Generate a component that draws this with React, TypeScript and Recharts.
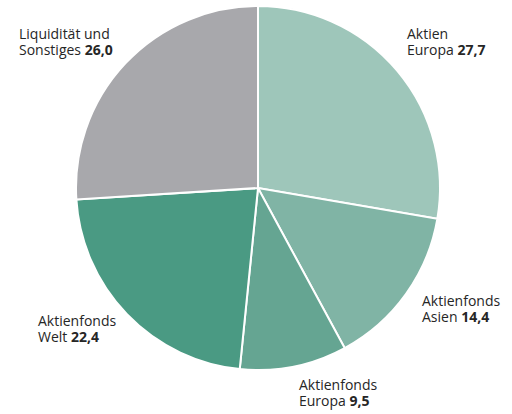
import { Cell, Pie, PieChart } from "recharts";

const names = [
  "Aktien Europa",
  "Aktienfonds Asien",
  "Aktienfonds Europa",
  "Aktienfonds Welt",
  "Liquidität und Sonstiges",
];
const lines1 = ["Aktien", "Aktienfonds", "Aktienfonds", "Aktienfonds", "Liquidität und"];
const lines2 = ["Europa", "Asien", "Europa", "Welt", "Sonstiges"];
const shares = [27.7, 14.4, 9.5, 22.4, 26.0];
const colors = ["#9ec6ba", "#80b4a5", "#65a592", "#4a9a83", "#a8a8ac"];

// where each label block sits (left edge, first baseline)
const labelAt = [
  { x: 407, y: 39 },
  { x: 422, y: 306 },
  { x: 299, y: 390 },
  { x: 38, y: 326 },
  { x: 19, y: 39 },
];

const data = names.map((name, i) => ({ name, value: shares[i] }));

function fmt(v: number) {
  return v.toFixed(1).replace(".", ",");
}

function renderLabel(props: any) {
  const i = props.index as number;
  const p = labelAt[i];
  const font = { fill: "#262626", fontSize: 14, fontFamily: "'Open Sans', sans-serif" };
  return (
    <g>
      <text x={p.x} y={p.y} {...font}>
        {lines1[i]}
      </text>
      <text x={p.x} y={p.y + 16} {...font}>
        {lines2[i]} <tspan fontWeight="bold">{fmt(shares[i])}</tspan>
      </text>
    </g>
  );
}

export default function App() {
  return (
    <div style={{ position: "absolute", left: 0, top: 0, width: 512, height: 414, background: "#fff" }}>
      <PieChart width={512} height={414} margin={{ top: 0, right: 0, bottom: 0, left: 0 }}>
        <Pie
          data={data}
          dataKey="value"
          cx={258}
          cy={188}
          outerRadius={182}
          startAngle={90}
          endAngle={-270}
          stroke="#fff"
          strokeWidth={2}
          label={renderLabel}
          labelLine={false}
          isAnimationActive={false}
        >
          {data.map((d, i) => (
            <Cell key={d.name} fill={colors[i]} />
          ))}
        </Pie>
      </PieChart>
    </div>
  );
}
